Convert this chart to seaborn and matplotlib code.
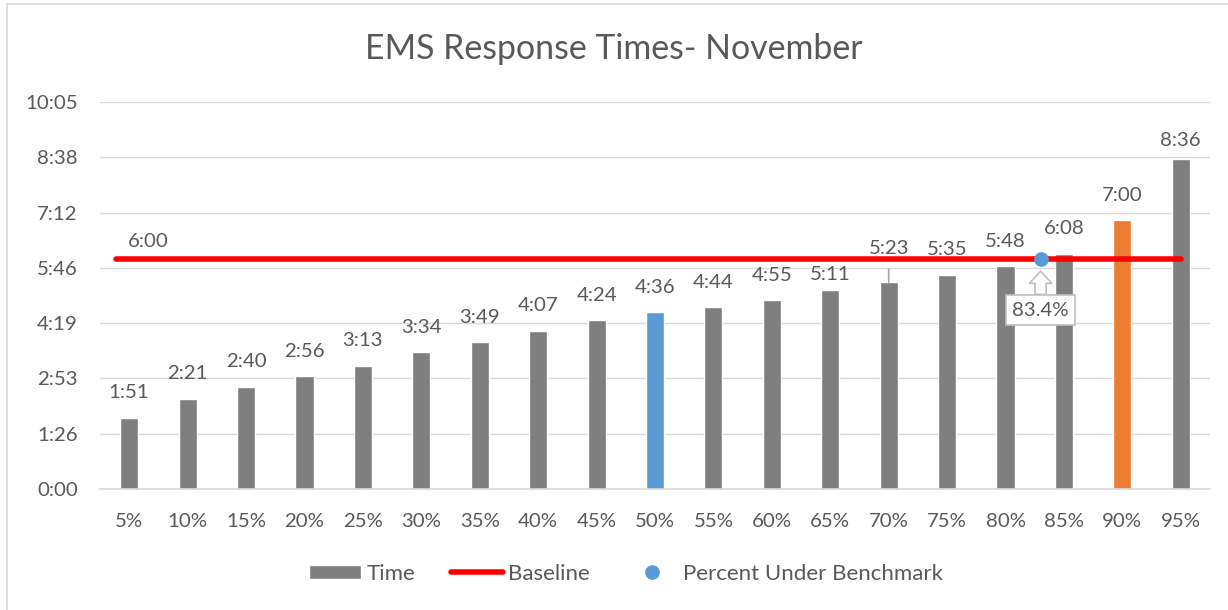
import numpy as np
import pandas as pd
import matplotlib
matplotlib.use("Agg")
import matplotlib.pyplot as plt
import seaborn as sns
from matplotlib.patches import Patch, Rectangle
from matplotlib.lines import Line2D

sns.set_theme(style="white")
plt.rcParams['font.family'] = ['Lato', 'DejaVu Sans']

# Data
percentiles = ['5%', '10%', '15%', '20%', '25%', '30%', '35%', '40%', '45%', '50%',
               '55%', '60%', '65%', '70%', '75%', '80%', '85%', '90%', '95%']
times = ['1:51', '2:21', '2:40', '2:56', '3:13', '3:34', '3:49', '4:07', '4:24', '4:36',
         '4:44', '4:55', '5:11', '5:23', '5:35', '5:48', '6:08', '7:00', '8:36']
baseline = '6:00'
pct_under = 83.4

GREY = '#7f7f7f'
BLUE = '#5b9bd5'
ORANGE = '#ed7d31'
RED = '#ff0000'
TEXT = '#595959'
LIGHT = '#d9d9d9'
highlight = {'50%': BLUE, '90%': ORANGE}
FS = 14.7


def to_sec(t):
    m, s = t.split(':')
    return int(m) * 60 + int(s)


def fmt(sec):
    sec = int(round(sec))
    return f"{sec // 60}:{sec % 60:02d}"


df = pd.DataFrame({'pct': percentiles, 'sec': [to_sec(t) for t in times]})
base_sec = to_sec(baseline)
colors = [highlight.get(p, GREY) for p in percentiles]

fig = plt.figure(figsize=(12.28, 6.10), dpi=100)
ax = fig.add_axes([100 / 1228, 1 - 489 / 610, 1110 / 1228, 387 / 610])

sns.barplot(data=df, x='pct', y='sec', hue='pct', palette=colors, width=0.31,
            saturation=1, legend=False, ax=ax, zorder=2)

# axis: Excel time axis with 0.001-day major unit
yticks = np.arange(0, 8) * 86.4
ax.set_ylim(0, yticks[-1])
ax.set_yticks(yticks)
ax.set_yticklabels([fmt(v) for v in yticks])
ax.set_xlim(-0.5, len(percentiles) - 0.5)
ax.set_xlabel('')
ax.set_ylabel('')
ax.grid(axis='y', color=LIGHT, lw=1, zorder=0)
ax.set_axisbelow(True)
for side in ['left', 'right', 'top']:
    ax.spines[side].set_visible(False)
ax.spines['bottom'].set_color(LIGHT)
ax.spines['bottom'].set_linewidth(1.2)
ax.tick_params(axis='y', length=0, pad=16, labelsize=FS, labelcolor=TEXT)
ax.tick_params(axis='x', which='major', length=0, pad=17, labelsize=FS, labelcolor=TEXT)
ax.set_xticks(np.arange(-0.5, len(percentiles)), minor=True)
ax.tick_params(axis='x', which='minor', length=5, color=LIGHT, width=1.2)

# data labels (Excel nudged a few of them)
label_offset = {'65%': 11, '70%': 24, '95%': 13}
for i, (p, s) in enumerate(zip(df['pct'], df['sec'])):
    off = label_offset.get(p, 18)
    arrow = dict(arrowstyle='-', color='#a6a6a6', lw=1.2, shrinkA=6, shrinkB=0) if p == '70%' else None
    ax.annotate(fmt(s), (i, s), xytext=(0, off), textcoords='offset points',
                ha='center', va='center', fontsize=FS, color=TEXT,
                arrowprops=arrow, zorder=3)

# baseline line
xs = np.arange(len(percentiles))
ax.plot([xs[0] - 0.22, xs[-1]], [base_sec, base_sec], color=RED, lw=4,
        solid_capstyle='round', zorder=4)
ax.annotate(baseline, (xs[0] - 0.22, base_sec), xytext=(23, 12), textcoords='offset points',
            ha='center', va='center', fontsize=FS, color=TEXT)

# percent under benchmark point (where the baseline crosses the bars)
x_dot = np.interp(base_sec, df['sec'], xs)
ax.plot([x_dot], [base_sec], 'o', color=BLUE, ms=9.5, zorder=5)
ax.annotate(f"{pct_under}%", (x_dot, base_sec), xytext=(0, -37), textcoords='offset points',
            ha='center', va='center', fontsize=FS, color=TEXT, zorder=6,
            bbox=dict(boxstyle='square,pad=0.32', fc='white', ec='#bfbfbf', lw=1.2),
            arrowprops=dict(arrowstyle='simple,head_length=0.6,head_width=1.1,tail_width=0.55',
                            fc='white', ec='#bfbfbf', lw=1.2, shrinkA=0, shrinkB=9))

# title
fig.text(0.5, 1 - 49 / 610, 'EMS Response Times- November', ha='center', va='center',
         fontsize=24.4, color=TEXT)

# legend
handles = [Patch(fc=GREY, label='Time'),
           Line2D([], [], color=RED, lw=4, solid_capstyle='round', label='Baseline'),
           Line2D([], [], ls='', marker='o', color=BLUE, ms=9.5, label='Percent Under Benchmark')]
leg = fig.legend(handles=handles, loc='center', bbox_to_anchor=(626 / 1228, 1 - 574 / 610),
                 ncol=3, frameon=False, handlelength=2.35, handleheight=0.63,
                 handletextpad=0.25, columnspacing=1.6, fontsize=16)
for t in leg.get_texts():
    t.set_color(TEXT)

# chart border (right/bottom edges fall outside the crop)
fig.patches.append(Rectangle((7 / 1228, -0.05), 1.1, 1 - 4 / 610 + 0.05,
                             transform=fig.transFigure, fill=False, ec=LIGHT, lw=1.2))

fig.savefig('out.png', dpi=100)
